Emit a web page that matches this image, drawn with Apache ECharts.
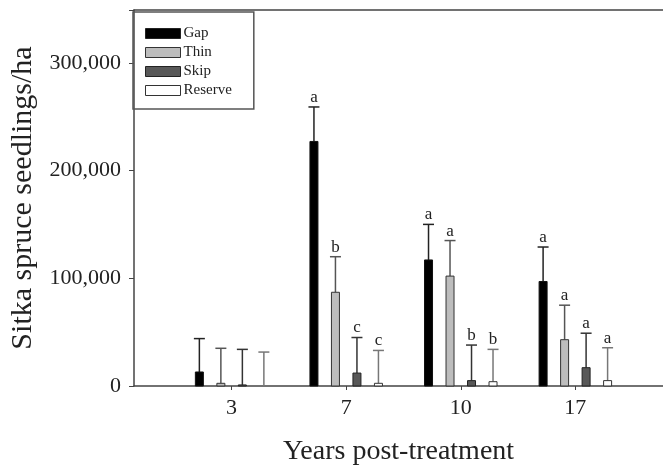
<!DOCTYPE html>
<html>
<head>
<meta charset="utf-8">
<title>Sitka spruce seedlings</title>
<script src="https://cdn.jsdelivr.net/npm/echarts@6/dist/echarts.min.js"></script>
<style>
    html, body { margin: 0; padding: 0; background: #fff; }
    #main { width: 663px; height: 471px; }
</style>
</head>
<body>
<div id="main"></div>
<script>
    // 数据
    var years = ['3', '7', '10', '17'];
    var yTicks = [0, 100000, 200000, 300000];

    var gapMean = [13000, 227000, 117000, 97000];
    var gapUpper = [44000, 259000, 150000, 129000];
    var gapLetters = ['', 'a', 'a', 'a'];

    var thinMean = [2500, 87000, 102000, 43000];
    var thinUpper = [35000, 120000, 135000, 75000];
    var thinLetters = ['', 'b', 'a', 'a'];

    var skipMean = [1000, 12000, 5000, 17000];
    var skipUpper = [34000, 45000, 38000, 49000];
    var skipLetters = ['', 'c', 'b', 'a'];

    var reserveMean = [0, 2500, 4000, 5000];
    var reserveUpper = [31500, 33000, 34000, 35500];
    var reserveLetters = ['', 'c', 'b', 'a'];

    var serif = '"Liberation Serif", "DejaVu Serif", serif';

    // 柱子 + 误差线 + 字母
    function makeRender(k, letters, fill, border, errColor) {
        return function (params, api) {
            var i = params.dataIndex;
            var base = api.coord([api.value(0), 0]);
            var top = api.coord([api.value(0), api.value(1)]);
            var up = api.coord([api.value(0), api.value(2)]);
            var x = base[0] + (k - 1.5) * 21.5;
            var children = [
                {
                    type: 'line',
                    shape: {x1: x, y1: top[1], x2: x, y2: up[1]},
                    style: {stroke: errColor, lineWidth: 1.5}
                },
                {
                    type: 'line',
                    shape: {x1: x - 5.5, y1: up[1], x2: x + 5.5, y2: up[1]},
                    style: {stroke: errColor, lineWidth: 1.5}
                }
            ];
            if (api.value(1) > 0) {
                children.push({
                    type: 'rect',
                    shape: {x: x - 4, y: top[1], width: 8, height: base[1] - top[1]},
                    style: {fill: fill, stroke: border, lineWidth: 1}
                });
            }
            if (letters[i]) {
                children.push({
                    type: 'text',
                    style: {
                        x: x, y: up[1] - 1,
                        text: letters[i],
                        align: 'center', verticalAlign: 'bottom',
                        font: '17px ' + serif,
                        fill: '#222'
                    }
                });
            }
            return {type: 'group', children: children};
        };
    }

    function buildData(mean, upper) {
        var arr = [];
        for (var i = 0; i < mean.length; i++) {
            arr.push([i, mean[i], upper[i]]);
        }
        return arr;
    }

    function fmt(v) {
        return String(v).replace(/\B(?=(\d{3})+(?!\d))/g, ',');
    }

    var myChart = echarts.init(document.getElementById('main'));
    myChart.setOption({
        animation: false,
        backgroundColor: '#fff',
        grid: {left: 132, right: 0, top: 10, bottom: 84},
        legend: {
            orient: 'vertical',
            left: 133,
            top: 12,
            padding: [14, 22, 11, 12],
            itemWidth: 35,
            itemHeight: 10,
            itemGap: 4,
            icon: 'rect',
            borderColor: '#555',
            borderWidth: 1.5,
            textStyle: {fontFamily: serif, fontSize: 15, lineHeight: 12, color: '#222', padding: [0, 0, 0, -2]},
            data: [
                {name: 'Gap', itemStyle: {color: '#000', borderColor: '#222', borderWidth: 1}},
                {name: 'Thin', itemStyle: {color: '#bdbdbd', borderColor: '#333', borderWidth: 1}},
                {name: 'Skip', itemStyle: {color: '#585858', borderColor: '#222', borderWidth: 1}},
                {name: 'Reserve', itemStyle: {color: '#fff', borderColor: '#333', borderWidth: 1}}
            ]
        },
        xAxis: [
            {
                type: 'value',
                min: -0.852,
                max: 3.765,
                name: 'Years post-treatment',
                nameLocation: 'middle',
                nameGap: 52,
                nameTextStyle: {fontFamily: serif, fontSize: 28, color: '#222'},
                splitLine: {show: false},
                axisLine: {lineStyle: {color: '#444', width: 1.5}},
                axisTick: {customValues: [0, 1, 2, 3], length: 4, lineStyle: {color: '#444'}},
                axisLabel: {
                    customValues: [0, 1, 2, 3],
                    margin: 11,
                    fontFamily: serif, fontSize: 22, color: '#222',
                    formatter: function (v) {
                        return years[Math.round(v)];
                    }
                }
            },
            {
                type: 'value',
                position: 'top',
                min: 0, max: 1,
                axisLine: {show: true, onZero: false, lineStyle: {color: '#444', width: 1.5}},
                axisTick: {show: false},
                axisLabel: {show: false},
                splitLine: {show: false}
            }
        ],
        yAxis: {
            type: 'value',
            min: 0,
            max: 349000,
            interval: 100000,
            name: 'Sitka spruce seedlings/ha',
            nameLocation: 'middle',
            nameRotate: 90,
            nameGap: 96,
            nameTextStyle: {fontFamily: serif, fontSize: 30, color: '#222'},
            splitLine: {show: false},
            axisLine: {show: true, onZero: false, lineStyle: {color: '#444', width: 1.5}},
            axisTick: {length: 5, lineStyle: {color: '#444'}},
            axisLabel: {
                customValues: yTicks,
                margin: 13,
                fontFamily: serif, fontSize: 22, color: '#222',
                formatter: function (v) {
                    return fmt(v);
                }
            }
        },
        series: [
            {
                name: 'Gap', type: 'custom', itemStyle: {color: '#000'},
                renderItem: makeRender(0, gapLetters, '#000', '#111', '#222'),
                data: buildData(gapMean, gapUpper)
            },
            {
                name: 'Thin', type: 'custom', itemStyle: {color: '#bdbdbd'},
                renderItem: makeRender(1, thinLetters, '#bdbdbd', '#333', '#555'),
                data: buildData(thinMean, thinUpper)
            },
            {
                name: 'Skip', type: 'custom', itemStyle: {color: '#585858'},
                renderItem: makeRender(2, skipLetters, '#585858', '#222', '#333'),
                data: buildData(skipMean, skipUpper)
            },
            {
                name: 'Reserve', type: 'custom', itemStyle: {color: '#fff'},
                renderItem: makeRender(3, reserveLetters, '#fff', '#333', '#777'),
                data: buildData(reserveMean, reserveUpper)
            }
        ]
    });
</script>
</body>
</html>
